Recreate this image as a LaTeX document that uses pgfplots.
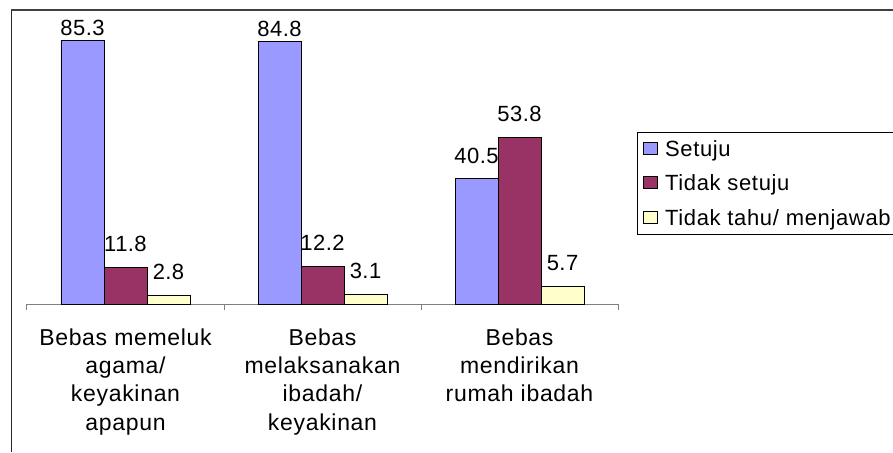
\documentclass[border=0pt]{standalone}
\usepackage{fontspec}
\setmainfont[LetterSpace=3]{Liberation Sans}
\newfontfamily\numfont[LetterSpace=2]{Liberation Sans}
\usepackage{pgfplots}
\pgfplotsset{compat=1.18}
\definecolor{setuju}{HTML}{9999FF}
\definecolor{tidak}{HTML}{993366}
\definecolor{tahu}{HTML}{FFFFCC}

\begin{document}
\begin{tikzpicture}[x=1pt,y=1pt]
\fill[white] (0,0) rectangle (893,452);
% chart frame (only top and left edges are visible)
\draw[line width=0.8pt, black!85] (11,0) -- (11,442);
\draw[line width=2pt, black!75] (11,442) -- (893,442);
\begin{axis}[
    at={(27pt,148pt)}, anchor=south west,
    scale only axis, width=591pt, height=294pt,
    xmin=-0.5, xmax=2.5, ymin=0, ymax=95,
    ybar=0pt, bar width=43pt,
    axis x line=bottom, axis y line=none,
    x axis line style={-, draw=gray, line width=1pt},
    xtick={0,1,2},
    xticklabels={{Bebas memeluk\\agama/\\keyakinan\\apapun},
                 {Bebas\\melaksanakan\\ibadah/\\keyakinan},
                 {Bebas\\mendirikan\\rumah ibadah}},
    major tick length=0pt,
    minor xtick={-0.5,0.5,1.5,2.5},
    minor tick length=6pt, tick align=outside,
    minor x tick style={draw=gray, line width=1pt},
    ytick=\empty,
    xticklabel style={align=center, font=\fontsize{23}{28.3}\selectfont, yshift=-21pt},
    /pgf/number format/.cd, fixed, fixed zerofill, precision=1, assume math mode=true,
    /pgfplots/.cd,
    nodes near coords,
    visualization depends on={y \as \rawy},
    every node near coord/.append style={font=\numfont\fontsize{22}{24}\selectfont, black,
        inner sep=1pt, yshift={(\rawy>80) ? 3 : 14}},
    legend style={at={(1.032,0.585)}, anchor=north west, draw=black, line width=0.8pt,
        font=\fontsize{22}{24}\selectfont, row sep=13pt, inner xsep=6pt, inner ysep=6pt},
    legend cell align=left,
    legend image code/.code={\draw[#1, draw=black, line width=0.7pt] (0pt,-5pt) rectangle (14pt,7pt);
        \path (19pt,0pt);},
  ]
  \addplot[fill=setuju, draw=black, line width=0.8pt] coordinates {(0,85.3) (1,84.8) (2,40.5)};
  \addplot[fill=tidak, draw=black, line width=0.8pt] coordinates {(0,11.8) (1,12.2) (2,53.8)};
  \addplot[fill=tahu, draw=black, line width=0.8pt] coordinates {(0,2.8) (1,3.1) (2,5.7)};
  \legend{Setuju, Tidak setuju, Tidak tahu/ menjawab}
\end{axis}
\pgfresetboundingbox
\path[use as bounding box] (0,0) rectangle (893,452);
\end{tikzpicture}
\end{document}
